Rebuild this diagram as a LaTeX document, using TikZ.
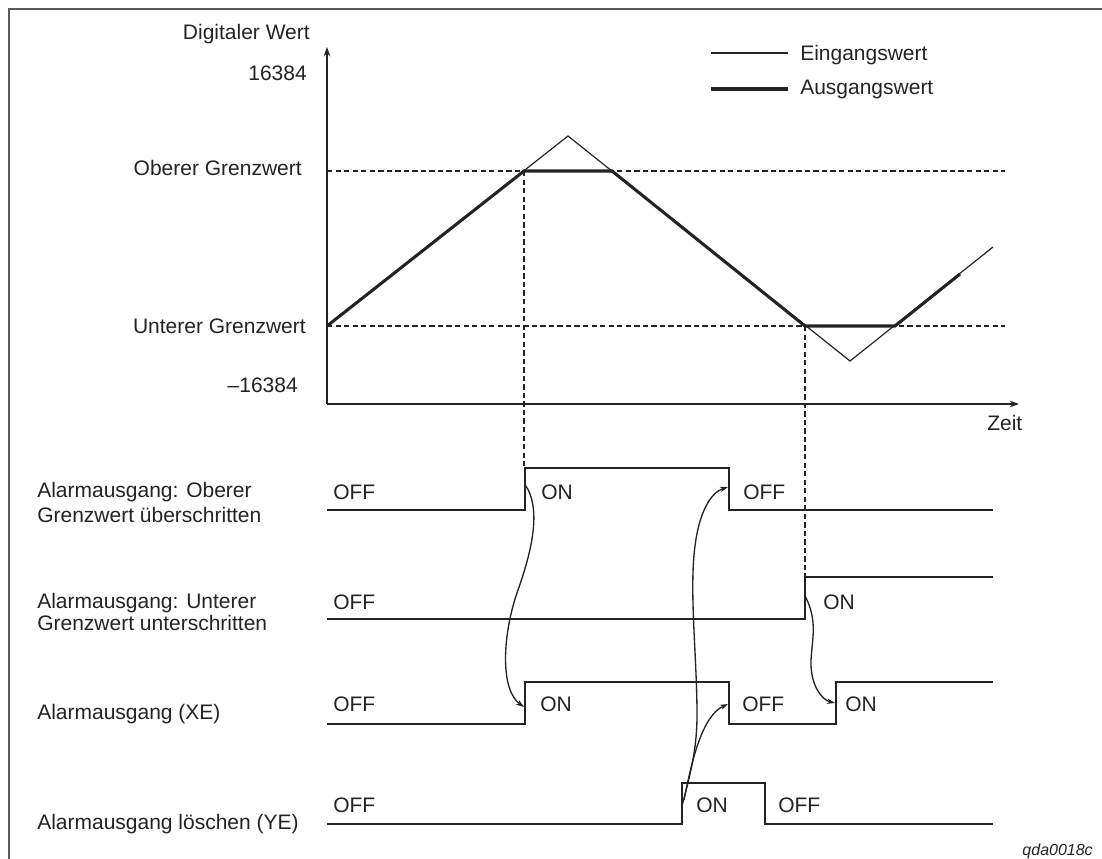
\documentclass[tikz,border=0pt]{standalone}
\usepackage{fontspec}
\setmainfont{Liberation Sans}
\usetikzlibrary{arrows.meta}
\definecolor{ink}{RGB}{35,35,35}
\definecolor{framegray}{RGB}{90,90,90}
\begin{document}
\begin{tikzpicture}[x=0.75pt,y=-0.75pt,
  every node/.style={inner sep=0pt,text=ink,font=\fontsize{15.75}{19}\selectfont},
  lbl/.style={anchor=base west},
  rlbl/.style={anchor=base east},
  axisline/.style={draw=ink,line width=1.6pt},
  inwave/.style={draw=ink,line width=0.9pt,line join=miter},
  outwave/.style={draw=ink,line width=2.3pt,line join=miter},
  limitline/.style={draw=ink,line width=0.8pt,dash pattern=on 4pt off 2.4pt},
  signal/.style={draw=ink,line width=1.1pt},
  cause/.style={draw=ink,line width=1pt,-{Stealth[length=6pt,width=4pt]}}]
\useasboundingbox (0,0) rectangle (1102,859);

% frame
\draw[framegray,line width=1.6pt] (9,859) -- (9,9) -- (1102,9);

% axes
\coordinate (origin) at (327,404);
\coordinate (ytop) at (327,47);
\coordinate (xend) at (1019,404);
\draw[axisline,-{Stealth[length=7pt,width=5pt]}] (origin) -- (ytop);
\draw[axisline,-{Stealth[length=7pt,width=5pt]}] (origin) -- (xend);

% limit values
\coordinate (upL) at (327,171);
\coordinate (upR) at (1005,171);
\coordinate (loL) at (327,326);
\coordinate (loR) at (1005,326);
\draw[limitline] (upL) -- (upR);
\draw[limitline] (loL) -- (loR);

% input and output values
\coordinate (p0) at (327,326);
\coordinate (p1) at (524,171);
\coordinate (peak) at (568,136);
\coordinate (p2) at (612,171);
\coordinate (p3) at (805,326);
\coordinate (valley) at (850,361);
\coordinate (p4) at (895,326);
\coordinate (inEnd) at (993,247);
\coordinate (outEnd) at (960,274);
\draw[inwave] (p0) -- (peak) -- (valley) -- (inEnd);
\draw[outwave] (p0) -- (p1) -- (p2) -- (p3) -- (p4) -- (outEnd);

% axis labels
\node[rlbl] (ylabel) at (310,39.5) {Digitaler Wert};
\node[rlbl] (ymax) at (307,80.5) {16384};
\node[rlbl] (upper) at (302,175.5) {Oberer Grenzwert};
\node[rlbl] (lower) at (306,333.5) {Unterer Grenzwert};
\node[rlbl] (ymin) at (298,392.5) {\textendash16384};
\node[lbl] (xlabel) at (987,430.5) {Zeit};

% legend
\coordinate (lgA1) at (711,53);
\coordinate (lgA2) at (788,53);
\coordinate (lgB1) at (711,89);
\coordinate (lgB2) at (788,89);
\draw[inwave] (lgA1) -- (lgA2);
\draw[outwave] (lgB1) -- (lgB2);
\node[lbl] (lgIn) at (800,60.5) {Eingangswert};
\node[lbl] (lgOut) at (800,94.5) {Ausgangswert};

% signal rows
\draw[signal] (327,510) -- (525,510) -- (525,468) -- (729,468) -- (729,510) -- (993,510);
\draw[signal] (327,619) -- (805,619) -- (805,577) -- (993,577);
\draw[signal] (327,724) -- (525,724) -- (525,682) -- (729,682) -- (729,724) -- (836,724) -- (836,682) -- (993,682);
\draw[signal] (327,824) -- (682,824) -- (682,783) -- (765,783) -- (765,824) -- (993,824);

% drop lines from the limit crossings
\draw[limitline] (p1) -- (524,468);
\draw[limitline] (p3) -- (805,577);

% row labels
\node[lbl] (r1a) at (37,497.5) {Alarmausgang: Oberer};
\node[lbl] (r1b) at (37,522.5) {Grenzwert überschritten};
\node[lbl] (r2a) at (37,608.5) {Alarmausgang: Unterer};
\node[lbl] (r2b) at (37,630.5) {Grenzwert unterschritten};
\node[lbl] (r3) at (37,719.5) {Alarmausgang (XE)};
\node[lbl] (r4) at (37,829.5) {Alarmausgang löschen (YE)};

% state labels
\node[lbl] (s1a) at (333,499.5) {OFF};
\node[lbl] (s1b) at (541,499.5) {ON};
\node[lbl] (s1c) at (743,499.5) {OFF};
\node[lbl] (s2a) at (333,609.5) {OFF};
\node[lbl] (s2b) at (823,609.5) {ON};
\node[lbl] (s3a) at (333,711.5) {OFF};
\node[lbl] (s3b) at (540,711.5) {ON};
\node[lbl] (s3c) at (742,711.5) {OFF};
\node[lbl] (s3d) at (845,711.5) {ON};
\node[lbl] (s4a) at (333,812.5) {OFF};
\node[lbl] (s4b) at (696,812.5) {ON};
\node[lbl] (s4c) at (778,812.5) {OFF};

% cause-and-effect arrows
\coordinate (c1s) at (526,486);
\coordinate (c1m) at (518,590);
\coordinate (c1e) at (524,707);
\draw[cause] (c1s) .. controls (540,508) and (534,545) .. (c1m)
  .. controls (502,635) and (500,690) .. (c1e);

\coordinate (c2s) at (682,806);
\coordinate (c2m) at (697,715);
\coordinate (c2n) at (694,555);
\coordinate (c2e) at (728,487);
\draw[cause] (c2s) .. controls (690,775) and (697,750) .. (c2m)
  .. controls (697,660) and (690,600) .. (c2n)
  .. controls (698,510) and (712,492) .. (c2e);

\coordinate (c3s) at (684,800);
\coordinate (c3e) at (728,704);
\draw[cause] (c3s) .. controls (692,760) and (702,716) .. (c3e);

\coordinate (c4s) at (805,596);
\coordinate (c4m) at (811,660);
\coordinate (c4e) at (835,703);
\draw[cause] (c4s) .. controls (818,620) and (812,640) .. (c4m)
  .. controls (810,685) and (822,700) .. (c4e);

% drawing number
\node[anchor=base east,font=\fontsize{12}{14}\selectfont\itshape] (code) at (1093,855) {qda0018c};
\end{tikzpicture}
\end{document}
